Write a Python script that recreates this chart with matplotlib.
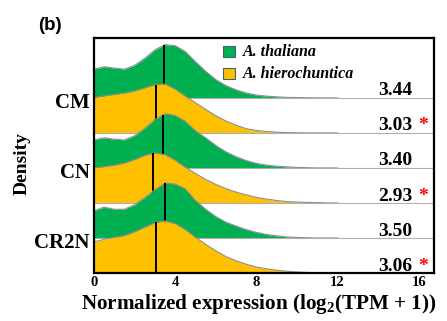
import numpy as np
import matplotlib
matplotlib.use("Agg")
import matplotlib.pyplot as plt
from matplotlib.patches import Rectangle

plt.rcParams["font.family"] = "Liberation Serif"
plt.rcParams["font.weight"] = "bold"
plt.rcParams["mathtext.fontset"] = "custom"
plt.rcParams["mathtext.rm"] = "Liberation Serif:bold"
plt.rcParams["mathtext.it"] = "Liberation Serif:bold"
plt.rcParams["mathtext.bf"] = "Liberation Serif:bold"

# ── data ─────────────────────────────────────────────────────────────
conditions = ["CM", "CN", "CR2N"]
species = ["A. thaliana", "A. hierochuntica"]
colors = {"A. thaliana": "#00B050", "A. hierochuntica": "#FFC000"}

# expression grid (log2(TPM+1)) and density heights (in ridge-spacing units)
expr = [0, 0.5, 1, 1.5, 2, 2.5, 3, 3.5, 4, 4.5, 5, 5.5, 6, 6.5, 7, 7.5,
        8, 8.5, 9, 9.5, 10, 10.5, 11, 11.5, 12]

dens_thal_cm = [0.82, 0.89, 0.85, 0.82, 0.93, 1.13, 1.37, 1.52, 1.49, 1.32, 1.03,
                0.76, 0.52, 0.35, 0.23, 0.14, 0.08, 0.05, 0.03, 0.015, 0.01,
                0.005, 0.0, 0.0, 0.0]
dens_hier_cm = [1.01, 1.06, 1.10, 1.14, 1.20, 1.29, 1.38, 1.40, 1.25, 1.05, 0.86,
                0.67, 0.49, 0.34, 0.22, 0.12, 0.07, 0.04, 0.02, 0.01, 0.005,
                0.0, 0.0, 0.0, 0.0]
dens_thal_cn = [0.80, 0.86, 0.82, 0.80, 0.92, 1.13, 1.38, 1.55, 1.50, 1.33, 1.06,
                0.86, 0.64, 0.46, 0.32, 0.21, 0.13, 0.08, 0.05, 0.03, 0.015,
                0.008, 0.0, 0.0, 0.0]
dens_hier_cn = [1.00, 1.04, 1.08, 1.14, 1.24, 1.36, 1.43, 1.38, 1.22, 1.02, 0.84,
                0.67, 0.53, 0.41, 0.31, 0.23, 0.16, 0.11, 0.07, 0.04, 0.025,
                0.015, 0.01, 0.0, 0.0]
dens_thal_cr2n = [0.78, 0.88, 0.82, 0.82, 0.95, 1.15, 1.38, 1.57, 1.54, 1.40, 1.07,
                  0.82, 0.61, 0.45, 0.34, 0.24, 0.16, 0.10, 0.06, 0.03, 0.015,
                  0.008, 0.0, 0.0, 0.0]
dens_hier_cr2n = [0.89, 0.96, 1.02, 1.07, 1.18, 1.31, 1.44, 1.49, 1.41, 1.24, 1.02,
                  0.82, 0.63, 0.47, 0.35, 0.25, 0.17, 0.12, 0.08, 0.05, 0.03,
                  0.015, 0.008, 0.0, 0.0]

medians_thal = [3.44, 3.40, 3.50]
medians_hier = [3.03, 2.93, 3.06]
significant_hier = [True, True, True]

densities = {
    ("CM", "A. thaliana"): dens_thal_cm, ("CM", "A. hierochuntica"): dens_hier_cm,
    ("CN", "A. thaliana"): dens_thal_cn, ("CN", "A. hierochuntica"): dens_hier_cn,
    ("CR2N", "A. thaliana"): dens_thal_cr2n, ("CR2N", "A. hierochuntica"): dens_hier_cr2n,
}

# ── plot ─────────────────────────────────────────────────────────────
fig = plt.figure(figsize=(4.47, 3.21), dpi=100)
ax = fig.add_axes([94/447, 1-273/321, 340/447, 235/321])

x = np.array(expr)
n_rows = 2 * len(conditions)
ytick_pos = []
z = 1
for ci, cond in enumerate(conditions):
    for si, sp in enumerate(species):
        row = ci * 2 + si
        base = n_rows - 1 - row
        h = np.array(densities[(cond, sp)])
        ax.fill_between(x, base, base + h, color=colors[sp], lw=0, zorder=z)
        ax.plot(x, base + h, color="#8c8c8c", lw=0.8, zorder=z + 0.1)
        ax.axhline(base, color="#b0b0b0", lw=0.8, zorder=z + 0.1)
        med = (medians_thal if si == 0 else medians_hier)[ci]
        ax.vlines(med, base, base + np.interp(med, x, h), color="black",
                  lw=1.4, zorder=z + 0.2)
        ax.text(15.7, base + 0.07, f"{med:.2f}", ha="right", va="baseline",
                fontsize=14, fontweight="bold", zorder=20)
        if si == 1 and significant_hier[ci]:
            ax.text(15.95, base + 0.07, "*", ha="left", va="baseline",
                    fontsize=14, fontweight="bold", color="red", zorder=20)
        if si == 0:
            ytick_pos.append(base - 0.08)
        z += 1

ax.set_xlim(0, 16.75)
ax.set_ylim(0, 6.71)
ax.set_xticks([0, 4, 8, 12, 16])
ax.set_xticklabels(["0", "4", "8", "12", "16"], fontsize=10.5, fontweight="bold")
ax.set_yticks(ytick_pos)
ax.set_yticklabels(conditions, fontsize=15, fontweight="bold")
ax.tick_params(axis="both", length=0)
ax.tick_params(axis="x", pad=2.5)
ax.tick_params(axis="y", pad=3)
for s in ax.spines.values():
    s.set_linewidth(1.6)
    s.set_color("black")
    s.set_zorder(30)

ax.set_xlabel(r"Normalized expression (log$_2$(TPM + 1))", fontsize=15.2,
              fontweight="bold")
ax.xaxis.set_label_coords(0.484, -0.082)
fig.text(22/447, 1-164/321, "Density", rotation=90, ha="center", va="center",
         fontsize=14, fontweight="bold")
fig.text(50/447, 1-25/321, "(b)", ha="center", va="center", fontsize=13.5,
         fontweight="bold", family="Liberation Sans")

# legend drawn by hand
leg_y = [0.919, 0.826]
for sp, yy in zip(species, leg_y):
    ax.add_patch(Rectangle((0.379, yy), 0.035, 0.045, transform=ax.transAxes,
                           facecolor=colors[sp], edgecolor="#3f5f7f", lw=0.8,
                           zorder=40))
    ax.text(0.438, yy + 0.022, sp, transform=ax.transAxes, ha="left",
            va="center", fontsize=11.5, fontweight="bold", style="italic",
            zorder=40)

fig.savefig("out.png", dpi=100)
